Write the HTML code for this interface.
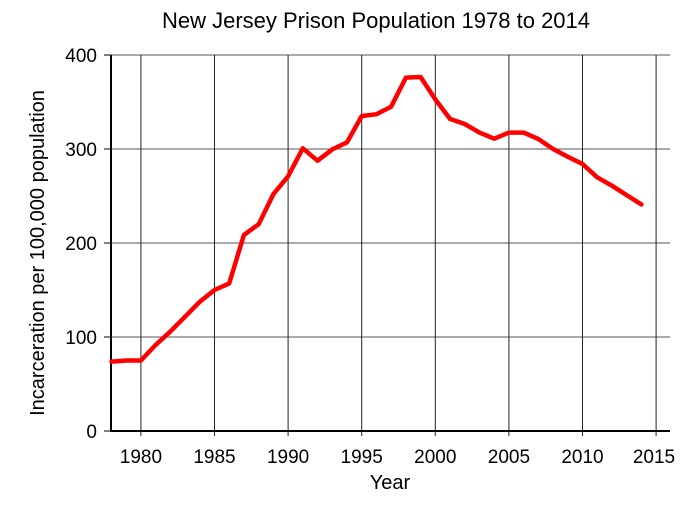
<!DOCTYPE html>
<html><head><style>body{margin:0;background:#fff}</style></head><body>
<svg width="685" height="512" xmlns="http://www.w3.org/2000/svg" font-family="Liberation Sans, sans-serif">
<rect width="685" height="512" fill="#fff"/>
<text x="376" y="28" font-size="22" text-anchor="middle">New Jersey Prison Population 1978 to 2014</text>
<g stroke="#555" stroke-width="1">
<line x1="111" y1="55" x2="670" y2="55"/>
<line x1="111" y1="149" x2="670" y2="149"/>
<line x1="111" y1="243" x2="670" y2="243"/>
<line x1="111" y1="337" x2="670" y2="337"/>
</g>
<g stroke="#222" stroke-width="1">
<line x1="140.9" y1="55" x2="140.9" y2="436"/>
<line x1="214.5" y1="55" x2="214.5" y2="436"/>
<line x1="288.1" y1="55" x2="288.1" y2="436"/>
<line x1="361.7" y1="55" x2="361.7" y2="436"/>
<line x1="435.3" y1="55" x2="435.3" y2="436"/>
<line x1="508.9" y1="55" x2="508.9" y2="436"/>
<line x1="582.5" y1="55" x2="582.5" y2="436"/>
<line x1="656.1" y1="55" x2="656.1" y2="436"/>
</g>
<g stroke="#000" stroke-width="1">
<line x1="104" y1="55" x2="111" y2="55"/><line x1="104" y1="149" x2="111" y2="149"/><line x1="104" y1="243" x2="111" y2="243"/><line x1="104" y1="337" x2="111" y2="337"/><line x1="104" y1="431" x2="111" y2="431"/>
</g>
<g id="minor" stroke="#000" stroke-width="1"></g>
<line x1="111" y1="55" x2="111" y2="432" stroke="#000" stroke-width="2"/>
<line x1="110" y1="431" x2="670" y2="431" stroke="#000" stroke-width="2"/>
<g font-size="19" text-anchor="end">
<text x="97" y="62">400</text><text x="97" y="156">300</text><text x="97" y="250">200</text><text x="97" y="344">100</text><text x="97" y="438">0</text>
</g>
<g font-size="19" text-anchor="middle">
<text x="140.9" y="463">1980</text><text x="214.5" y="463">1985</text><text x="288.1" y="463">1990</text><text x="361.7" y="463">1995</text><text x="435.3" y="463">2000</text><text x="508.9" y="463">2005</text><text x="582.5" y="463">2010</text><text x="654" y="463">2015</text>
</g>
<text x="390" y="489" font-size="20" text-anchor="middle">Year</text>
<text transform="translate(44,253) rotate(-90)" font-size="20" text-anchor="middle">Incarceration per 100,000 population</text>
<polyline id="ln" fill="none" stroke="#f00" stroke-width="4.5" stroke-linejoin="round" stroke-linecap="round"/>
<script>
var d=[73.8,75,75,91.5,105.7,121.6,137.6,150,157,208.5,220,252,271,300.7,287.6,299.6,307,335,337,345,376,376.6,352.8,332,326.6,317.4,311,317.4,317.4,310.6,300,291.8,284,269.9,261,251,241];
var p=d.map(function(v,i){return (140.9+(i-2)*14.72).toFixed(1)+','+(431-v*0.94).toFixed(1)}).join(' ');
document.getElementById('ln').setAttribute('points',p);
var g=document.getElementById('minor'),s='';
for(var y=1978;y<=2016;y++){var x=140.9+(y-1980)*14.72;if(x<670)s+='<line x1="'+x+'" y1="431" x2="'+x+'" y2="'+((y%5==0)?425:427)+'"/>';}
for(var v=10;v<400;v+=10){if(v%100)s+='<line x1="111" y1="'+(431-v*0.94)+'" x2="115" y2="'+(431-v*0.94)+'"/>';}
g.innerHTML=s;
</script>
</svg>
</body></html>
